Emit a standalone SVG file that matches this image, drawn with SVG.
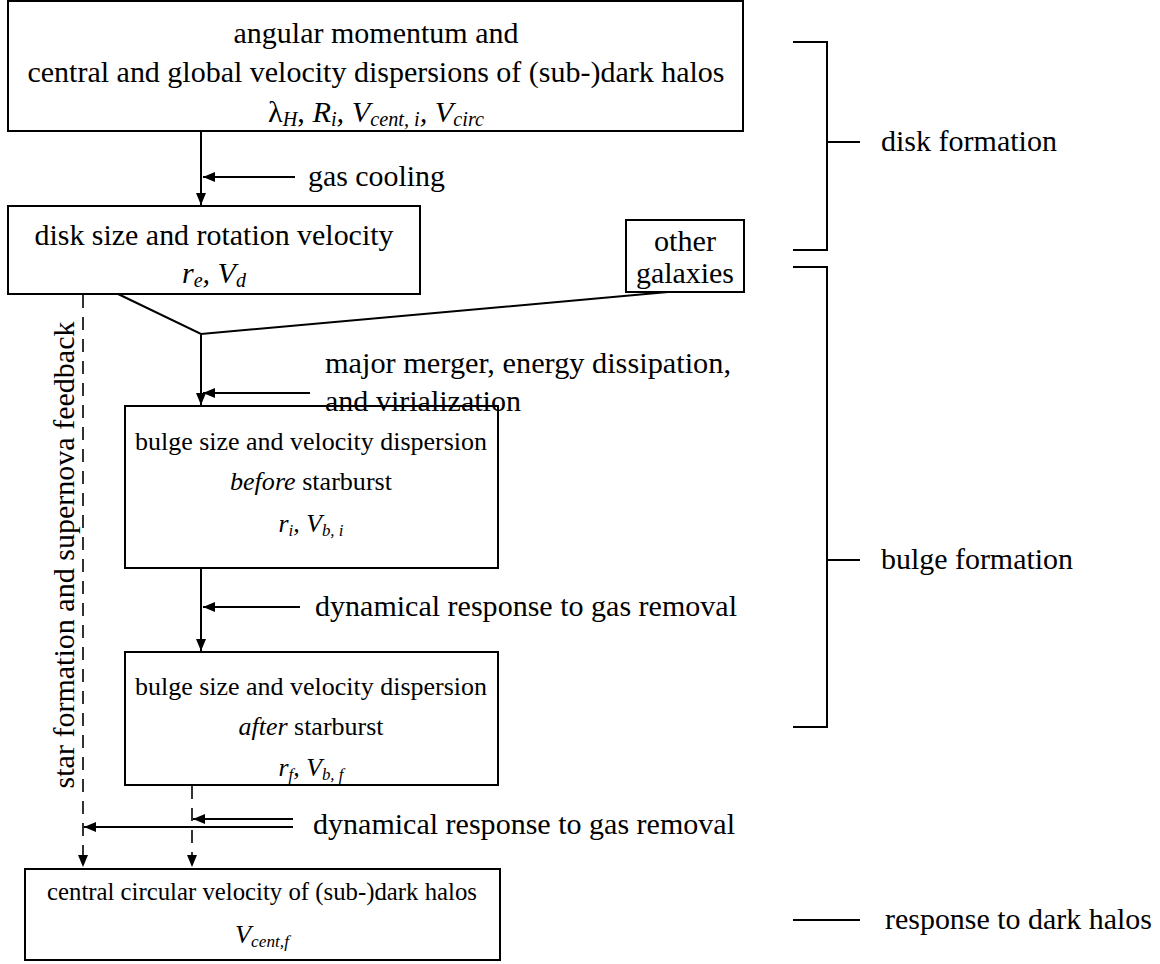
<svg xmlns="http://www.w3.org/2000/svg" width="1160" height="964" viewBox="0 0 1160 964" font-family="Liberation Serif">
<defs>
<marker id="ah" viewBox="0 0 12 10" refX="12" refY="5" markerWidth="12" markerHeight="10" markerUnits="userSpaceOnUse" orient="auto">
<path d="M0,0 L12,5 L0,10 Z" fill="#000"/>
</marker>
</defs>
<g id="connectors" fill="none" stroke="#000" stroke-width="2">
<line x1="201" y1="131" x2="201" y2="205" marker-end="url(#ah)"/>
<line x1="295" y1="177" x2="203" y2="177" marker-end="url(#ah)"/>
<polyline points="116,293 201,334 668,292"/>
<line x1="201" y1="334" x2="201" y2="405" marker-end="url(#ah)"/>
<line x1="310" y1="393" x2="203" y2="393" marker-end="url(#ah)"/>
<line x1="201" y1="568" x2="201" y2="651" marker-end="url(#ah)"/>
<line x1="300" y1="607" x2="203" y2="607" marker-end="url(#ah)"/>
<line x1="83" y1="295" x2="83" y2="867" stroke-width="1.6" stroke-dasharray="13 9" marker-end="url(#ah)"/>
<line x1="192" y1="786" x2="192" y2="867" stroke-width="1.6" stroke-dasharray="13 9" marker-end="url(#ah)"/>
<line x1="293" y1="827" x2="84" y2="827" marker-end="url(#ah)"/>
<line x1="293" y1="819" x2="193" y2="819" marker-end="url(#ah)"/>
<polyline points="793,42 827,42 827,250 793,250"/>
<line x1="827" y1="142" x2="860" y2="142"/>
<polyline points="793,267 827,267 827,727 793,727"/>
<line x1="827" y1="560" x2="860" y2="560"/>
<line x1="793" y1="920" x2="860" y2="920"/>
</g>
<g id="n-halo">
<rect x="8" y="1" width="735" height="130" fill="#fff" stroke="#000" stroke-width="2"/>
<text x="376" y="43" text-anchor="middle" font-family="Liberation Serif" font-size="30" textLength="285" lengthAdjust="spacingAndGlyphs">angular momentum and</text>
<text x="376" y="82" text-anchor="middle" font-family="Liberation Serif" font-size="30" textLength="697" lengthAdjust="spacingAndGlyphs">central and global velocity dispersions of (sub-)dark halos</text>
<text x="376" y="122" text-anchor="middle" font-family="Liberation Serif" font-size="30" textLength="216" lengthAdjust="spacingAndGlyphs">&#955;<tspan font-size="20" font-style="italic" dy="4">H</tspan><tspan dy="-4">, </tspan><tspan font-style="italic">R</tspan><tspan font-size="20" font-style="italic" dy="4">i</tspan><tspan dy="-4" font-style="italic">, V</tspan><tspan font-size="20" font-style="italic" dy="4">cent, i</tspan><tspan dy="-4" font-style="italic">, V</tspan><tspan font-size="20" font-style="italic" dy="4">circ</tspan></text>
</g>
<g id="n-disk">
<rect x="8" y="206" width="412" height="88" fill="#fff" stroke="#000" stroke-width="2"/>
<text x="214" y="245" text-anchor="middle" font-family="Liberation Serif" font-size="30" textLength="359" lengthAdjust="spacingAndGlyphs">disk size and rotation velocity</text>
<text x="214" y="283" text-anchor="middle" font-family="Liberation Serif" font-size="30" font-style="italic" textLength="64" lengthAdjust="spacingAndGlyphs">r<tspan font-size="20" dy="4">e</tspan><tspan dy="-4">, V</tspan><tspan font-size="20" dy="4">d</tspan></text>
</g>
<g id="n-other">
<rect x="626" y="220" width="118" height="72" fill="#fff" stroke="#000" stroke-width="2"/>
<text x="685" y="251" text-anchor="middle" font-family="Liberation Serif" font-size="30" textLength="62" lengthAdjust="spacingAndGlyphs">other</text>
<text x="685" y="283" text-anchor="middle" font-family="Liberation Serif" font-size="30" textLength="98" lengthAdjust="spacingAndGlyphs">galaxies</text>
</g>
<g id="n-bulge-before">
<rect x="125" y="406" width="373" height="162" fill="#fff" stroke="#000" stroke-width="2"/>
<text x="311" y="450" text-anchor="middle" font-family="Liberation Serif" font-size="26" textLength="352" lengthAdjust="spacingAndGlyphs">bulge size and velocity dispersion</text>
<text x="311" y="490" text-anchor="middle" font-family="Liberation Serif" font-size="26" textLength="162" lengthAdjust="spacingAndGlyphs"><tspan font-style="italic">before</tspan> starburst</text>
<text x="311" y="532" text-anchor="middle" font-family="Liberation Serif" font-size="26" font-style="italic" textLength="65" lengthAdjust="spacingAndGlyphs">r<tspan font-size="17" dy="4">i</tspan><tspan dy="-4">, V</tspan><tspan font-size="17" dy="4">b, i</tspan></text>
</g>
<g id="n-bulge-after">
<rect x="125" y="652" width="373" height="133" fill="#fff" stroke="#000" stroke-width="2"/>
<text x="311" y="695" text-anchor="middle" font-family="Liberation Serif" font-size="26" textLength="352" lengthAdjust="spacingAndGlyphs">bulge size and velocity dispersion</text>
<text x="311" y="735" text-anchor="middle" font-family="Liberation Serif" font-size="26" textLength="145" lengthAdjust="spacingAndGlyphs"><tspan font-style="italic">after</tspan> starburst</text>
<text x="311" y="776" text-anchor="middle" font-family="Liberation Serif" font-size="26" font-style="italic" textLength="65" lengthAdjust="spacingAndGlyphs">r<tspan font-size="17" dy="4">f</tspan><tspan dy="-4">, V</tspan><tspan font-size="17" dy="4">b, f</tspan></text>
</g>
<g id="n-central">
<rect x="25" y="869" width="475" height="91" fill="#fff" stroke="#000" stroke-width="2"/>
<text x="262" y="900" text-anchor="middle" font-family="Liberation Serif" font-size="26" textLength="430" lengthAdjust="spacingAndGlyphs">central circular velocity of (sub-)dark halos</text>
<text x="262" y="943" text-anchor="middle" font-family="Liberation Serif" font-size="26" font-style="italic" textLength="54" lengthAdjust="spacingAndGlyphs">V<tspan font-size="17" dy="4">cent,f</tspan></text>
</g>
<g id="labels">
<text x="308" y="186" font-family="Liberation Serif" font-size="30" textLength="137" lengthAdjust="spacingAndGlyphs">gas cooling</text>
<text x="325" y="373" font-family="Liberation Serif" font-size="30" textLength="406" lengthAdjust="spacingAndGlyphs">major merger, energy dissipation,</text>
<text x="325" y="411" font-family="Liberation Serif" font-size="30" textLength="196" lengthAdjust="spacingAndGlyphs">and virialization</text>
<text x="315" y="616" font-family="Liberation Serif" font-size="30" textLength="422" lengthAdjust="spacingAndGlyphs">dynamical response to gas removal</text>
<text x="313" y="834" font-family="Liberation Serif" font-size="30" textLength="422" lengthAdjust="spacingAndGlyphs">dynamical response to gas removal</text>
<text transform="translate(74,555) rotate(-90)" text-anchor="middle" font-family="Liberation Serif" font-size="30" textLength="467" lengthAdjust="spacingAndGlyphs">star formation and supernova feedback</text>
<text x="881" y="151" font-family="Liberation Serif" font-size="30" textLength="176" lengthAdjust="spacingAndGlyphs">disk formation</text>
<text x="881" y="569" font-family="Liberation Serif" font-size="30" textLength="192" lengthAdjust="spacingAndGlyphs">bulge formation</text>
<text x="885" y="929" font-family="Liberation Serif" font-size="30" textLength="267" lengthAdjust="spacingAndGlyphs">response to dark halos</text>
</g>
</svg>
